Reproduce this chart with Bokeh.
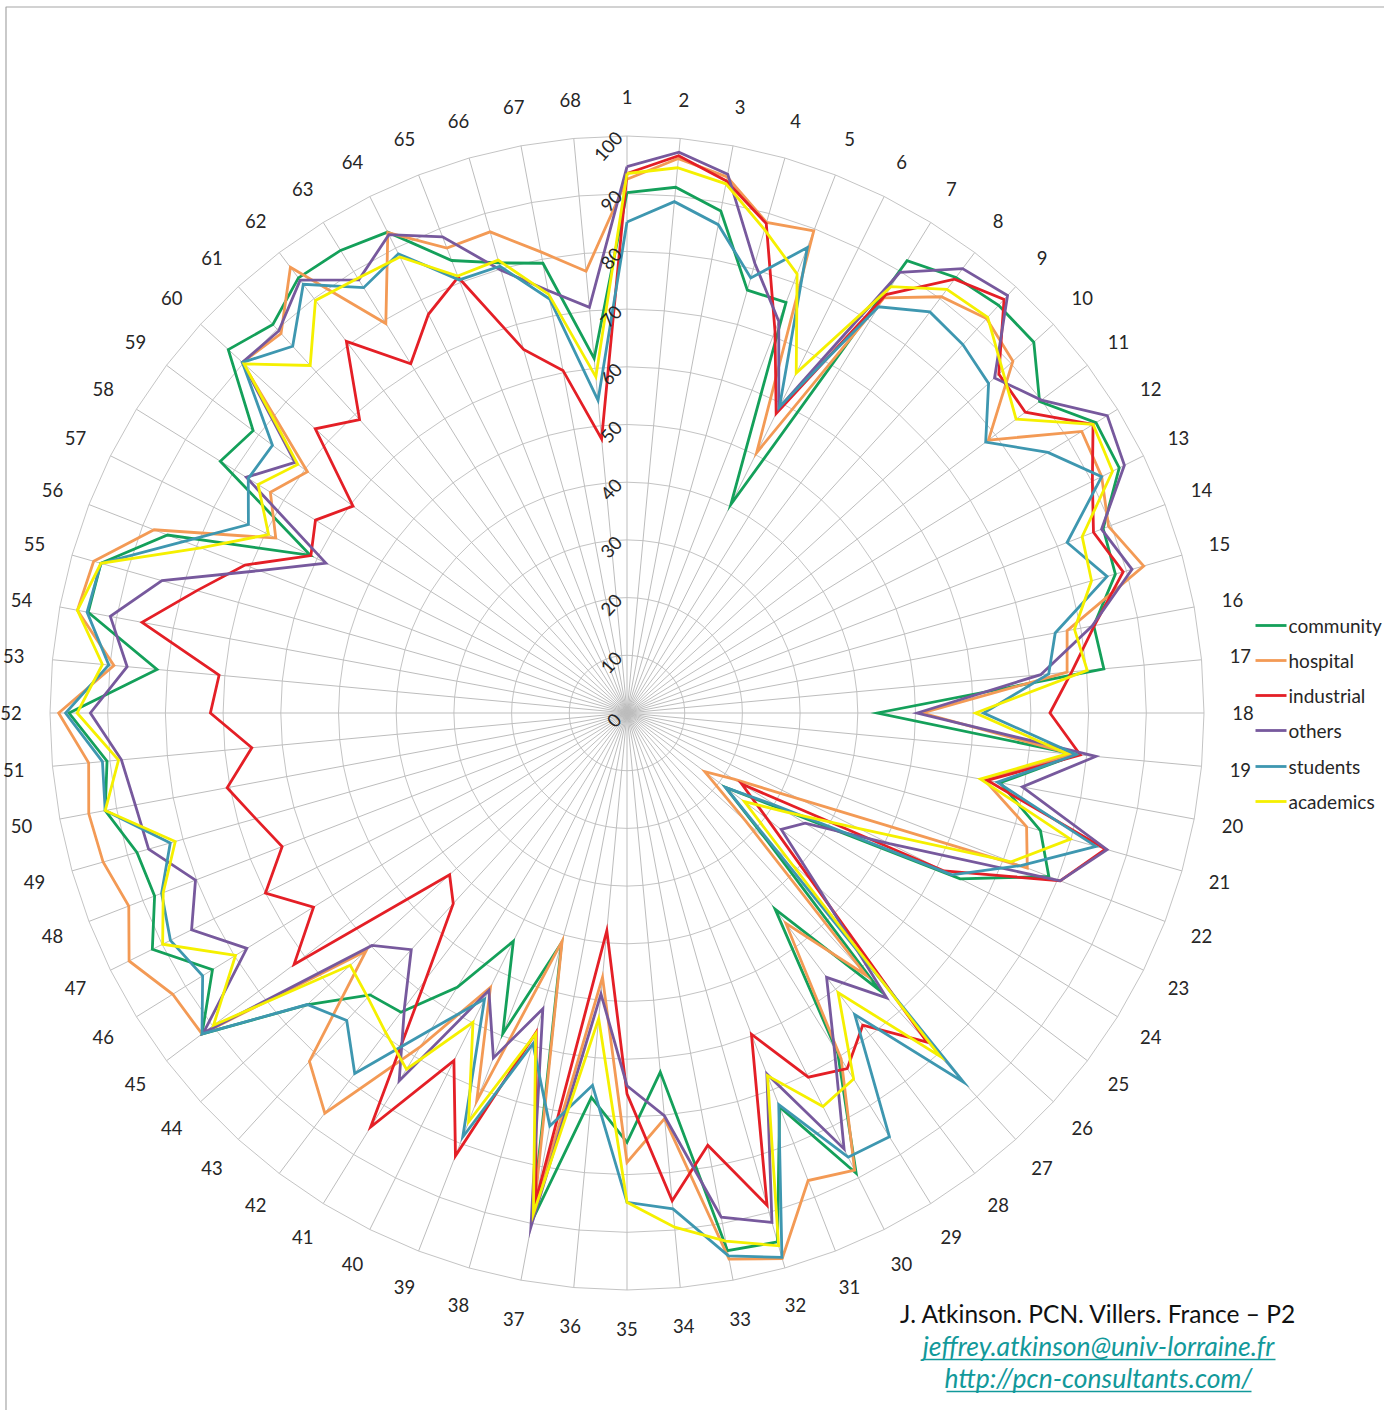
import numpy as np
from bokeh.plotting import figure
from bokeh.models import Range1d
from bokeh.embed import file_html
from bokeh.resources import INLINE
from bokeh.core.properties import value

# ---------------- data ----------------
spokes = [str(i) for i in range(1, 69)]
ticks = [0, 10, 20, 30, 40, 50, 60, 70, 80, 90, 100]
names = ["community", "hospital", "industrial", "others", "students", "academics"]

community = [90.2, 91.5, 88.5, 76.2, 76.3, 40.4, 92.2, 94.6, 95.6, 95.4,
             89.6, 95.6, 95.3, 88.5, 88.0, 82.3, 83.0, 43.4, 78.2, 65.8,
             74.5, 78.4, 64.5, 31.8, 21.4, 32.9, 65.1, 42.6, 69.4, 89.1,
             73.2, 95.3, 94.8, 62.5, 74.4, 66.9, 89.5, 41.4, 59.6, 44.2,
             55.9, 65.0, 66.1, 75.1, 92.3, 84.5, 91.9, 87.8, 88.3, 92.0,
             90.5, 96.7, 81.8, 95.0, 94.8, 85.4, 61.3, 82.9, 81.2, 93.5,
             91.1, 94.5, 94.3, 93.1, 84.1, 81.1, 79.3, 61.7]
hospital = [92.5, 96.5, 94.5, 88.4, 89.6, 50.4, 84.6, 90.4, 92.5, 90.5,
            78.5, 92.7, 91.9, 89.5, 93.1, 77.6, 76.6, 51.2, 77.5, 63.0,
            72.0, 74.4, 33.6, 21.8, 16.9, 27.9, 61.5, 45.7, 70.5, 88.5,
            86.9, 98.3, 96.3, 70.6, 77.9, 46.0, 87.4, 41.1, 72.1, 53.1,
            68.0, 86.9, 81.7, 61.2, 92.3, 92.6, 96.4, 92.6, 94.4, 94.9,
            93.7, 98.5, 89.3, 96.9, 96.1, 87.9, 68.0, 72.7, 69.4, 90.2,
            89.0, 96.8, 79.4, 93.0, 86.4, 86.7, 81.3, 76.9]
industrial = [93.5, 97.0, 93.8, 88.2, 71.0, 58.0, 85.3, 94.2, 97.0, 87.2,
              86.5, 95.0, 90.1, 86.7, 89.4, 82.4, 77.4, 73.3, 78.9, 63.5,
              86.2, 80.5, 61.4, 23.4, 30.5, 43.5, 77.2, 67.8, 72.5, 70.5,
              59.7, 88.7, 76.2, 84.9, 66.0, 37.9, 86.0, 57.5, 82.3, 67.3,
              84.4, 57.9, 44.7, 41.6, 72.3, 63.9, 70.0, 64.1, 66.9, 70.5,
              65.3, 72.2, 71.0, 85.5, 77.5, 71.0, 61.2, 63.5, 59.5, 73.1,
              68.8, 80.7, 71.2, 77.2, 81.0, 65.5, 60.4, 47.7]
others = [94.7, 97.6, 95.0, 81.0, 72.8, 59.0, 89.8, 96.5, 97.9, 86.2,
          90.0, 97.9, 96.3, 88.2, 91.0, 82.0, 72.0, 50.3, 81.6, 69.7,
          86.5, 80.5, 50.8, 36.3, 33.5, 44.8, 66.8, 57.4, 68.2, 84.4,
          67.1, 91.8, 88.9, 70.1, 64.6, 48.9, 90.6, 53.3, 64.1, 53.7,
          75.0, 64.0, 55.5, 59.8, 92.0, 77.5, 84.3, 80.2, 86.2, 86.7,
          88.0, 93.0, 87.0, 91.1, 83.8, 68.3, 58.3, 77.6, 72.1, 90.2,
          89.6, 94.0, 88.3, 92.6, 88.5, 79.8, 74.5, 70.6]
students = [85.1, 89.0, 86.1, 78.4, 86.5, 59.3, 82.8, 87.1, 86.4, 84.8,
            77.9, 85.8, 91.9, 81.8, 86.5, 75.5, 73.4, 61.8, 78.2, 65.3,
            84.5, 73.2, 62.9, 30.6, 21.4, 34.3, 86.6, 65.5, 86.4, 86.0,
            72.8, 98.1, 95.7, 86.3, 84.8, 64.8, 72.8, 59.6, 78.8, 55.4,
            64.5, 78.3, 72.1, 75.0, 92.3, 86.5, 88.4, 86.5, 82.3, 92.0,
            91.3, 97.3, 90.2, 95.2, 94.8, 82.3, 73.3, 77.2, 77.0, 90.2,
            86.0, 93.1, 86.7, 88.9, 80.5, 80.5, 73.0, 54.4]
academics = [93.5, 94.9, 93.3, 87.1, 81.6, 65.8, 86.9, 92.0, 92.8, 88.1,
             84.5, 95.0, 94.0, 84.6, 83.7, 78.9, 80.1, 60.4, 76.6, 62.3,
             79.9, 71.4, 45.0, 32.7, 25.5, 38.2, 80.5, 60.7, 74.6, 76.2,
             67.4, 96.0, 93.1, 89.5, 84.8, 53.2, 88.3, 57.8, 76.0, 59.9,
             72.6, 69.4, 66.7, 64.9, 89.8, 79.8, 89.9, 86.2, 81.4, 92.0,
             88.5, 95.3, 91.3, 96.9, 94.8, 79.2, 69.4, 75.2, 71.5, 89.8,
             81.5, 89.6, 88.6, 88.3, 81.2, 81.6, 73.8, 58.5]

series = [community, hospital, industrial, others, students, academics]
colors = ["#14a05a", "#f39a55", "#e41f26", "#77599d", "#3e97b0", "#f5f000"]

# ---------------- layout ----------------
W, H = 1384, 1410
CX, CY = 626.5, 712.5          # chart centre, pixels from top-left
S = 5.77                        # pixels per unit
RMAX = 100 * S
FONT = value("Lato")


def X(xr):   # page x -> data x
    return xr - CX


def Y(yr):   # page y -> data y
    return CY - yr


p = figure(width=W, height=H, x_range=Range1d(-CX, W - CX),
           y_range=Range1d(-(H - CY), CY), output_backend="svg",
           toolbar_location=None, x_axis_location=None, y_axis_location=None,
           min_border=0)
p.grid.visible = False
p.outline_line_color = None
p.background_fill_color = "white"
p.border_fill_color = "white"

# chart-area border (left and top edges)
p.line([X(5.5), X(5.5), X(1384)], [Y(1410), Y(6.5), Y(6.5)],
       line_color="#a6a6a6", line_width=1.2)

n = len(spokes)
theta = np.arange(n) * 2 * np.pi / n
tclosed = np.append(theta, theta[0])

# gridline polygons
gx, gy = [], []
for t in ticks[1:]:
    r = t * S
    gx.append(list(r * np.sin(tclosed)))
    gy.append(list(r * np.cos(tclosed)))
p.multi_line(gx, gy, line_color="#c4c4c4", line_width=1)

# spokes
p.segment(x0=np.zeros(n), y0=np.zeros(n), x1=RMAX * np.sin(theta),
          y1=RMAX * np.cos(theta), line_color="#bdbdbd", line_width=1)

# series
for vals, col in zip(series, colors):
    v = np.array(vals + [vals[0]])
    p.line(v * S * np.sin(tclosed), v * S * np.cos(tclosed),
           line_color=col, line_width=2.8, line_join="miter")

# category labels
RL = 616
p.text(x=RL * np.sin(theta), y=RL * np.cos(theta), text=spokes,
       text_align="center", text_baseline="middle", text_font=FONT,
       text_font_size="18.5px", text_color="#262626")

# value-axis tick labels (rotated, along spoke 1)
tl = [str(t) for t in ticks]
p.text(x=[-(10 + 3 * len(s)) for s in tl],
       y=[t * S - 7 - (3 if len(s) == 3 else 0) for t, s in zip(ticks, tl)],
       text=tl, angle=np.deg2rad(48), text_align="center",
       text_baseline="middle", text_font=FONT, text_font_size="18.5px",
       text_color="#262626")

# legend
ly = [625, 660, 695, 730, 766, 801]
for name, col, yy in zip(names, colors, ly):
    p.line([X(1255), X(1286)], [Y(yy), Y(yy)], line_color=col, line_width=2.8)
p.text(x=[X(1288)] * 6, y=[Y(yy) for yy in ly], text=names,
       text_align="left", text_baseline="middle", text_font=FONT,
       text_font_size="19px", text_color="#262626")

# footer
p.text(x=[X(1098)], y=[Y(1313)], text=["J. Atkinson. PCN. Villers. France \u2013 P2"],
       text_align="center", text_baseline="middle", text_font=FONT,
       text_font_size="24.5px", text_color="#111111")
p.text(x=[X(1098), X(1098)], y=[Y(1345), Y(1377)],
       text=["jeffrey.atkinson@univ-lorraine.fr", "http://pcn-consultants.com/"],
       text_align="center", text_baseline="middle", text_font=FONT,
       text_font_style="italic", text_font_size="26.5px", text_color="#12999a")
p.segment(x0=[X(922), X(946)], y0=[Y(1359), Y(1391)],
          x1=[X(1275), X(1251)], y1=[Y(1359), Y(1391)],
          line_color="#12999a", line_width=1.3)

open("out.html", "w").write(file_html(p, INLINE))
